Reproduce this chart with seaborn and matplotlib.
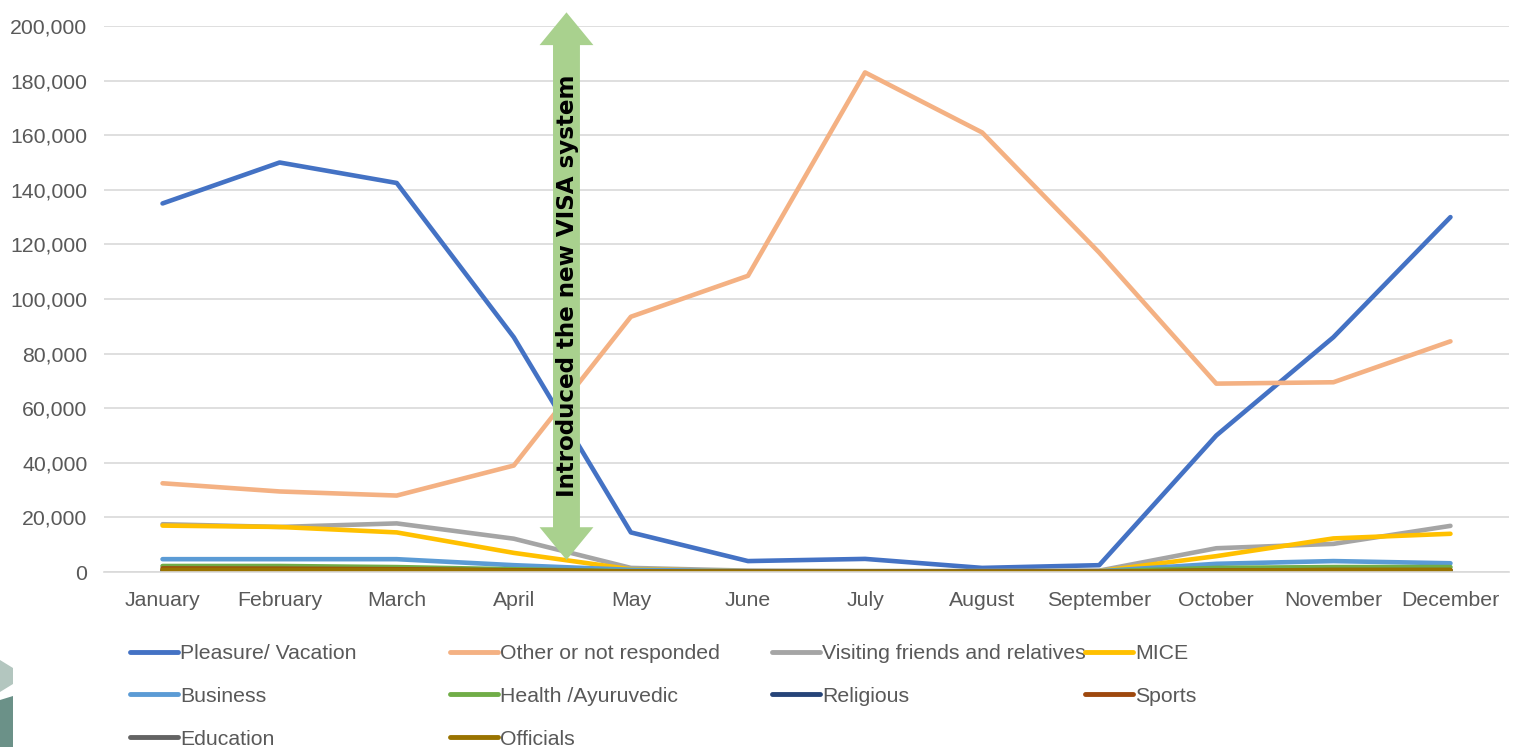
import pandas as pd
import matplotlib.pyplot as plt
import seaborn as sns
from matplotlib.lines import Line2D
from matplotlib.patches import Polygon
from matplotlib.ticker import FuncFormatter

# Monthly arrivals by purpose of visit
months = ['January', 'February', 'March', 'April', 'May', 'June', 'July',
          'August', 'September', 'October', 'November', 'December']

pleasure = [135000, 150000, 142500, 86000, 14500, 4000, 4800, 1500, 2500, 50000, 86000, 130000]
other = [32500, 29500, 28000, 39000, 93500, 108500, 183000, 161000, 117000, 69000, 69500, 84500]
vfr = [17500, 16500, 17800, 12200, 1500, 500, 300, 300, 500, 8700, 10300, 16900]
mice = [17000, 16500, 14500, 7000, 1000, 300, 300, 300, 300, 5800, 12300, 14000]
business = [4700, 4700, 4700, 2500, 800, 300, 300, 300, 300, 3000, 4000, 3200]
health = [2200, 2200, 1800, 1000, 300, 200, 200, 200, 200, 1500, 1800, 1800]
religious = [500, 500, 500, 400, 200, 100, 100, 100, 100, 400, 500, 500]
sports = [1300, 1200, 1000, 600, 200, 100, 100, 100, 100, 500, 700, 700]
education = [400, 400, 400, 300, 100, 100, 100, 100, 100, 300, 400, 400]
officials = [800, 800, 800, 500, 200, 100, 100, 100, 100, 500, 700, 700]

series = {
    'Pleasure/ Vacation': pleasure,
    'Other or not responded': other,
    'Visiting friends and relatives': vfr,
    'MICE': mice,
    'Business': business,
    'Health /Ayuruvedic': health,
    'Religious': religious,
    'Sports': sports,
    'Education': education,
    'Officials': officials,
}
colors = ['#4472C4', '#F4B183', '#A5A5A5', '#FFC000', '#5B9BD5',
          '#70AD47', '#264478', '#9E480E', '#636363', '#997300']
palette = dict(zip(series.keys(), colors))

rows = []
for name, vals in series.items():
    for m, v in zip(months, vals):
        rows.append({'Month': m, 'Arrivals': v, 'Purpose': name})
df = pd.DataFrame(rows)

sns.set_style('white')
plt.rcParams['font.family'] = ['Liberation Sans Narrow', 'Liberation Sans', 'DejaVu Sans']
text_col = '#595959'
fs = 15.3

fig = plt.figure(figsize=(15.16, 7.47), dpi=100)
ax = fig.add_axes([104 / 1516, 1 - 572 / 747, (1509 - 104) / 1516, (572 - 26) / 747])

sns.lineplot(data=df, x='Month', y='Arrivals', hue='Purpose', palette=palette,
             linewidth=3.3, sort=False, legend=False, ax=ax)

ax.set_xlim(-0.5, 11.5)
ax.set_ylim(0, 200000)
ax.set_yticks(range(0, 200001, 20000))
ax.yaxis.set_major_formatter(FuncFormatter(lambda v, p: f'{int(v):,}'))
ax.grid(axis='y', color='#D9D9D9', linewidth=1.2)
ax.set_axisbelow(True)
for s in ['top', 'left', 'right']:
    ax.spines[s].set_visible(False)
ax.spines['bottom'].set_color('#D9D9D9')
ax.spines['bottom'].set_linewidth(1.2)
ax.tick_params(axis='both', length=0, labelsize=fs, colors=text_col)
ax.tick_params(axis='y', pad=12)
ax.tick_params(axis='x', pad=14)
ax.set_xlabel('')
ax.set_ylabel('')

# double arrow marking the VISA change
xc, hw, hh, ah = 3.45, 0.115, 0.23, 12000
y0, y1 = 4400, 205000
arrow = Polygon([(xc, y1), (xc + hh, y1 - ah), (xc + hw, y1 - ah), (xc + hw, y0 + ah),
                 (xc + hh, y0 + ah), (xc, y0), (xc - hh, y0 + ah), (xc - hw, y0 + ah),
                 (xc - hw, y1 - ah), (xc - hh, y1 - ah)],
                closed=True, facecolor='#A9D18E', edgecolor='none', clip_on=False, zorder=5)
ax.add_patch(arrow)
ax.text(xc + 0.01, 104800, 'Introduced the new VISA system', rotation=90, ha='center', va='center',
        fontsize=16.6, fontweight='bold', family=['DejaVu Sans'],
        color='black', zorder=6)

# legend laid out in four columns, filled row by row
names = list(series.keys())
cols = [[0, 4, 8], [1, 5, 9], [2, 6], [3, 7]]
col_x = [130, 450, 772, 1085]
for idx, x in zip(cols, col_x):
    handles = [Line2D([], [], color=colors[i], linewidth=3.5) for i in idx]
    leg = fig.legend(handles, [names[i] for i in idx], loc='upper left',
                     bbox_to_anchor=(x / 1516, 1 - 644 / 747), frameon=False,
                     fontsize=fs, handlelength=2.26, handletextpad=0.1,
                     labelspacing=1.12, borderpad=0, borderaxespad=0)
    for t in leg.get_texts():
        t.set_color(text_col)

# slide decoration in the lower left corner
fig.patches.append(Polygon([(0, 1 - 660 / 747), (13 / 1516, 1 - 668 / 747), (13 / 1516, 1 - 684 / 747),
                            (0, 1 - 692 / 747)], closed=True, transform=fig.transFigure,
                           facecolor='#B3C6BF', edgecolor='none'))
fig.patches.append(Polygon([(0, 1 - 700 / 747), (13 / 1516, 1 - 696 / 747), (13 / 1516, 0), (0, 0)],
                           closed=True, transform=fig.transFigure,
                           facecolor='#6B9188', edgecolor='none'))

fig.savefig('out.png', dpi=100)
